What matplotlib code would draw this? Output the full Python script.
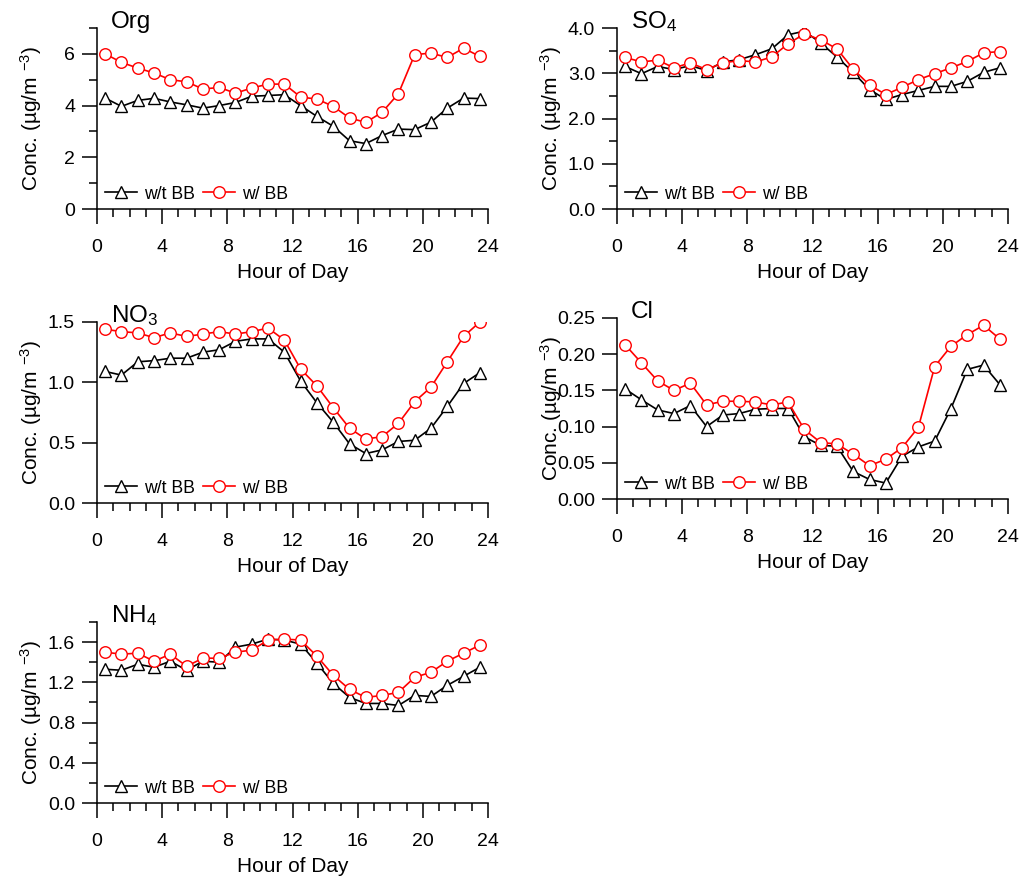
import numpy as np
import matplotlib
matplotlib.use('Agg')
import matplotlib.pyplot as plt
from matplotlib.ticker import MultipleLocator, FormatStrFormatter

plt.rcParams['font.family'] = ['Liberation Sans', 'DejaVu Sans']
plt.rcParams['mathtext.default'] = 'regular'

# ── Data (hourly means, hour of day 0.5 .. 23.5) ───────────
hours = np.arange(24) + 0.5

org_wt = [4.29, 3.97, 4.20, 4.28, 4.14, 4.03, 3.90, 4.00, 4.12, 4.36, 4.39, 4.42,
          4.00, 3.58, 3.20, 2.64, 2.53, 2.84, 3.09, 3.07, 3.36, 3.90, 4.29, 4.27]
org_w  = [6.00, 5.67, 5.45, 5.26, 5.00, 4.92, 4.64, 4.70, 4.48, 4.68, 4.83, 4.83,
          4.33, 4.25, 3.97, 3.52, 3.35, 3.74, 4.46, 5.97, 6.03, 5.86, 6.22, 5.90]

so4_wt = [3.15, 2.99, 3.15, 3.08, 3.17, 3.06, 3.25, 3.30, 3.41, 3.54, 3.85, 3.93,
          3.67, 3.36, 3.02, 2.64, 2.42, 2.53, 2.62, 2.71, 2.71, 2.82, 3.02, 3.12]
so4_w  = [3.35, 3.25, 3.29, 3.12, 3.23, 3.08, 3.23, 3.28, 3.25, 3.36, 3.65, 3.87,
          3.74, 3.54, 3.09, 2.74, 2.53, 2.69, 2.86, 2.99, 3.12, 3.26, 3.45, 3.48]

no3_wt = [1.09, 1.06, 1.17, 1.18, 1.20, 1.20, 1.25, 1.27, 1.34, 1.36, 1.36, 1.25,
          1.01, 0.83, 0.67, 0.49, 0.41, 0.44, 0.51, 0.52, 0.62, 0.80, 0.99, 1.08]
no3_w  = [1.44, 1.42, 1.41, 1.37, 1.41, 1.38, 1.40, 1.42, 1.40, 1.42, 1.45, 1.35,
          1.11, 0.97, 0.79, 0.62, 0.53, 0.55, 0.66, 0.84, 0.96, 1.17, 1.38, 1.50]

cl_wt = [0.152, 0.137, 0.123, 0.118, 0.129, 0.100, 0.116, 0.118, 0.124, 0.125, 0.125, 0.086,
         0.074, 0.073, 0.038, 0.027, 0.022, 0.059, 0.072, 0.080, 0.125, 0.179, 0.185, 0.158]
cl_w  = [0.213, 0.188, 0.163, 0.150, 0.160, 0.130, 0.135, 0.135, 0.134, 0.130, 0.134, 0.096,
         0.078, 0.076, 0.062, 0.046, 0.055, 0.071, 0.099, 0.183, 0.211, 0.227, 0.240, 0.221]

nh4_wt = [1.33, 1.32, 1.38, 1.35, 1.41, 1.32, 1.41, 1.40, 1.55, 1.58, 1.63, 1.62,
          1.58, 1.39, 1.19, 1.05, 0.99, 0.99, 0.97, 1.07, 1.06, 1.17, 1.26, 1.35]
nh4_w  = [1.50, 1.48, 1.49, 1.41, 1.48, 1.36, 1.44, 1.44, 1.50, 1.52, 1.62, 1.63,
          1.62, 1.46, 1.27, 1.13, 1.05, 1.07, 1.10, 1.25, 1.30, 1.41, 1.49, 1.57]

# ── Figure ─────────────────────────────────────────────────
fig = plt.figure(figsize=(10.24, 8.84), dpi=100, facecolor='white')

L, R = 97 / 1024, 617 / 1024
W, H = 391 / 1024, 181 / 884

panels = [
    # name, wt, w, left, bottom(px), ymax, major, minor, fmt
    ('Org',      org_wt, org_w, L, 209, 7.0,  2,    1,    '%d'),
    ('SO$_4$',   so4_wt, so4_w, R, 209, 4.0,  1.0,  0.5,  '%.1f'),
    ('NO$_3$',   no3_wt, no3_w, L, 503, 1.5,  0.5,  None, '%.1f'),
    ('Cl',       cl_wt,  cl_w,  R, 499, 0.25, 0.05, None, '%.2f'),
    ('NH$_4$',   nh4_wt, nh4_w, L, 803, 1.8,  0.4,  0.2,  '%.1f'),
]

for name, wt, w, left, bot, ymax, major, minor, fmt in panels:
    ax = fig.add_axes([left, 1 - bot / 884, W, H])

    ax.plot(hours, wt, color='black', lw=1.2, marker='^', ms=9,
            mfc='white', mec='black', mew=1.0, label='w/t BB')
    ax.plot(hours, w, color='red', lw=1.2, marker='o', ms=8.3,
            mfc='white', mec='red', mew=1.0, label='w/ BB')

    ax.set_xlim(0, 24)
    ax.set_ylim(0, ymax)
    ax.xaxis.set_major_locator(MultipleLocator(4))
    ax.xaxis.set_minor_locator(MultipleLocator(1))
    ax.yaxis.set_major_locator(MultipleLocator(major))
    if minor:
        ax.yaxis.set_minor_locator(MultipleLocator(minor))
    ax.yaxis.set_major_formatter(FormatStrFormatter(fmt))

    for s in ['top', 'right']:
        ax.spines[s].set_visible(False)
    for s in ['left', 'bottom']:
        ax.spines[s].set_linewidth(1.1)

    ax.tick_params(which='major', direction='out', length=10.8, width=1.1,
                   labelsize=14, color='black')
    ax.tick_params(which='minor', direction='out', length=6, width=1.1)
    ax.tick_params(axis='x', which='major', pad=10.5)
    ax.tick_params(axis='y', which='major', pad=5)

    ax.set_xlabel('Hour of Day', fontsize=15, labelpad=5)
    ax.set_ylabel('Conc. (µg/m $^{-3}$)', fontsize=15)
    ax.yaxis.set_label_coords(-0.135, 0.5)

    ax.text(0.035, 1.0, name, transform=ax.transAxes, fontsize=17.5,
            ha='left', va='baseline')

    ax.legend(loc='lower left', bbox_to_anchor=(0.02, 0.035), ncol=2,
              frameon=False, fontsize=12.7, numpoints=1, handlelength=1.8,
              handletextpad=0.4, columnspacing=0.5, borderpad=0,
              borderaxespad=0)

fig.savefig('out.png', dpi=100, facecolor='white')
